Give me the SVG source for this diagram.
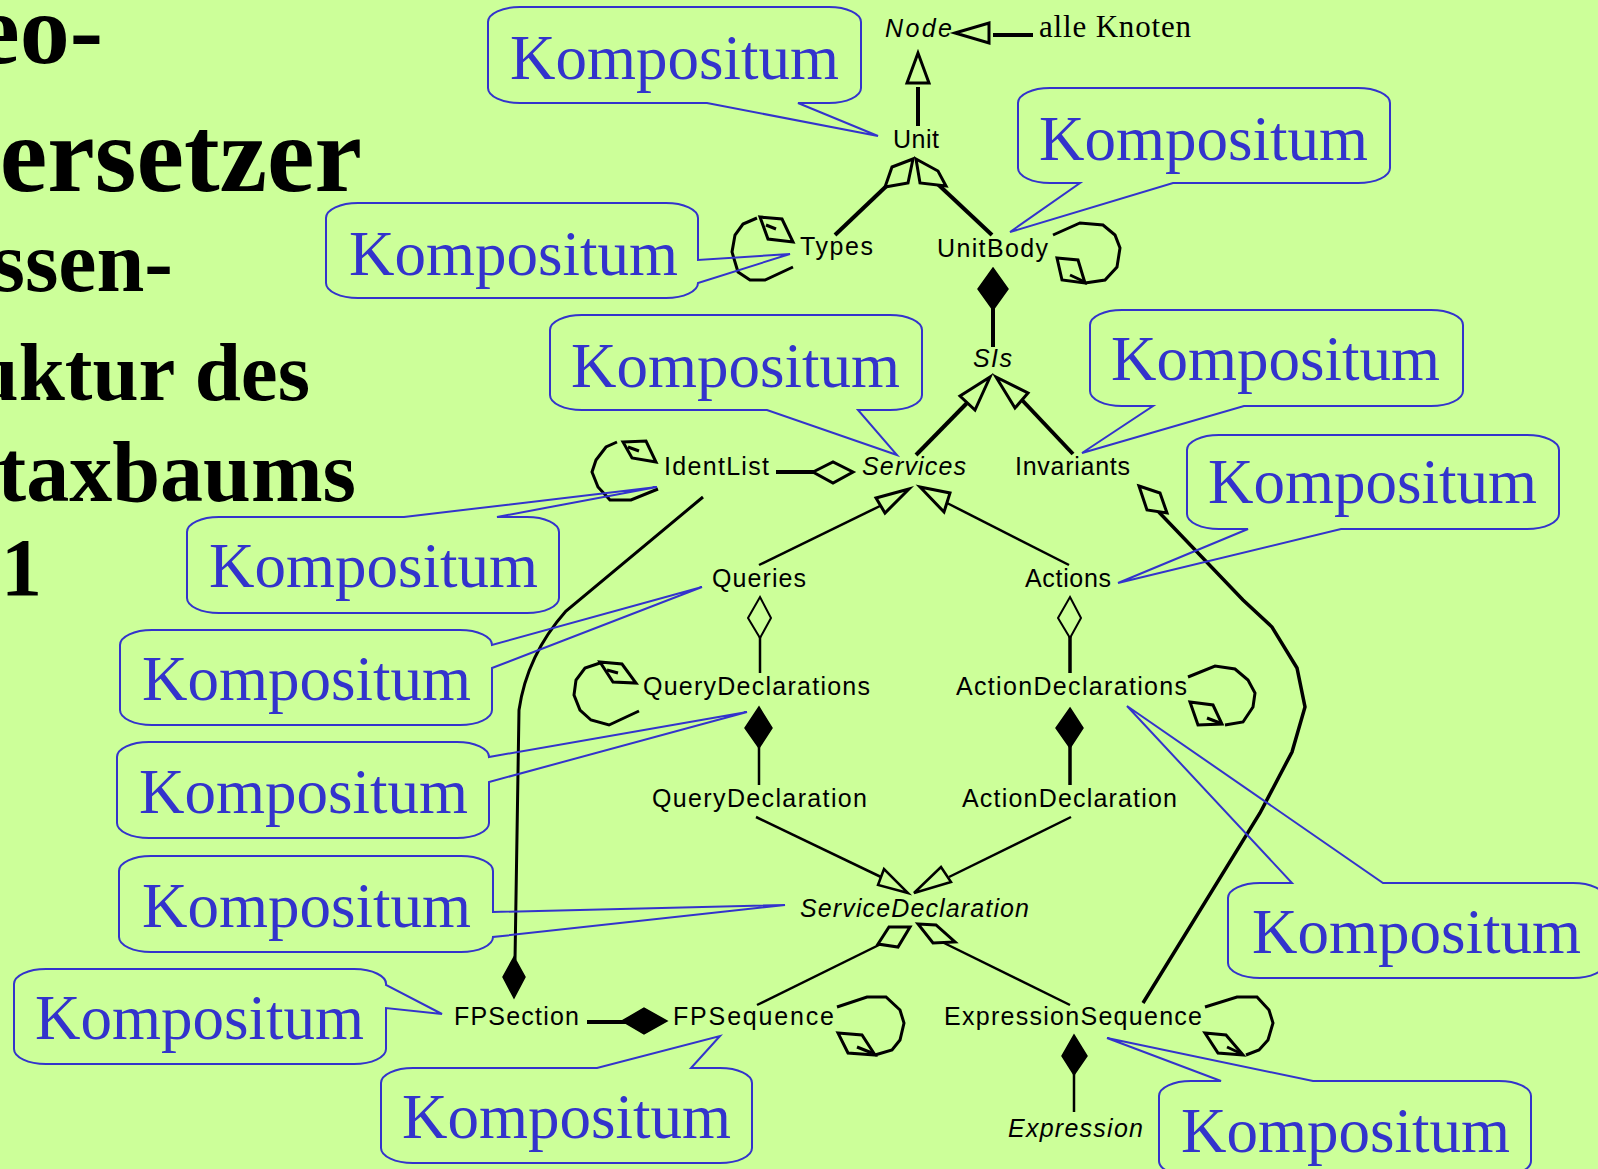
<svg xmlns="http://www.w3.org/2000/svg" width="1598" height="1169" viewBox="0 0 1598 1169">
  <style>
    .title { font-family: "Liberation Serif", "Times New Roman", serif; font-weight: bold; fill: #000; text-anchor: end; }
    .lbl { font-family: "Liberation Sans", Arial, sans-serif; font-size: 25px; fill: #000; }
    .abs { font-style: italic; }
    .note { font-family: "Liberation Serif", "Times New Roman", serif; font-size: 63px; fill: #3333cc; }
    .bubble { fill: none; stroke: #3333cc; stroke-width: 2; stroke-linejoin: miter; }
    .ln { fill: none; stroke: #000; stroke-width: 2.5; }
    .thick { fill: none; stroke: #000; stroke-width: 4; }
    .open { fill: #ccff99; stroke: #000; stroke-width: 3; stroke-linejoin: miter; }
    .solid { fill: #000; stroke: #000; stroke-width: 1.5; }
    .loop { fill: none; stroke: #000; stroke-width: 3; stroke-linejoin: miter; }
  </style>

  <rect x="0" y="0" width="1598" height="1169" fill="#ccff99"/>

  <!-- slide heading, cut off at the left margin -->
  <g id="heading">
    <text class="title" x="103" y="63" font-size="100">eo-</text>
    <text class="title" x="362" y="191" font-size="107">ersetzer</text>
    <text class="title" x="173" y="291" font-size="86">ssen-</text>
    <text class="title" x="310" y="400" font-size="83">uktur des</text>
    <text class="title" x="356" y="501" font-size="86">taxbaums</text>
    <text class="title" x="42" y="595" font-size="82">1</text>
  </g>

  <!-- associations, generalisations and aggregations -->
  <g id="connectors">
    <!-- alle Knoten -> Node -->
    <line class="thick" x1="993" y1="35" x2="1033" y2="35"/>
    <polygon class="open" points="955,33 989,23 989,43"/>
    <!-- Unit -> Node -->
    <line class="thick" x1="918" y1="87" x2="918" y2="126"/>
    <polygon class="open" points="918,53 907,83 929,83"/>
    <!-- Unit <>- Types -->
    <line class="thick" x1="835" y1="235" x2="897" y2="176"/>
    <polygon class="open" points="913,159 908,183 885,187 892,167"/>
    <!-- Unit <>- UnitBody -->
    <line class="thick" x1="992" y1="235" x2="927" y2="174"/>
    <polygon class="open" points="916,159 938,171 946,186 920,183"/>
    <!-- UnitBody <*>- SIs -->
    <line class="thick" x1="993" y1="305" x2="993" y2="347"/>
    <polygon class="solid" points="993,268 1008,289 993,310 978,289"/>
    <!-- Services -> SIs -->
    <line class="thick" x1="967" y1="403" x2="916" y2="455"/>
    <polygon class="open" points="990,377 960,396 975,410"/>
    <!-- Invariants -> SIs -->
    <line class="thick" x1="1022" y1="400" x2="1073" y2="454"/>
    <polygon class="open" points="996,377 1028,393 1015,408"/>
    <!-- Services <>- IdentList -->
    <line class="thick" x1="776" y1="472" x2="832" y2="472"/>
    <polygon class="open" points="813,472 833,462 853,472 833,483"/>
    <!-- Queries -> Services -->
    <line class="ln" x1="880" y1="506" x2="759" y2="565"/>
    <polygon class="open" points="909,489 876,498 885,513"/>
    <!-- Actions -> Services -->
    <line class="ln" x1="947" y1="503" x2="1069" y2="565"/>
    <polygon class="open" points="920,487 950,493 944,512"/>
    <!-- Queries <>- QueryDeclarations -->
    <line class="ln" x1="760" y1="620" x2="760" y2="673"/>
    <polygon class="open" points="760,597 771,618 760,638 748,618" style="stroke-width:2"/>
    <!-- Actions <>- ActionDeclarations -->
    <line class="thick" x1="1070" y1="620" x2="1070" y2="673" style="stroke-width:3.5"/>
    <polygon class="open" points="1070,597 1081,618 1070,638 1058,618" style="stroke-width:2"/>
    <!-- QueryDeclarations <*>- QueryDeclaration -->
    <line class="ln" x1="759" y1="745" x2="759" y2="785"/>
    <polygon class="solid" points="759,707 772,728 759,748 745,728"/>
    <!-- ActionDeclarations <*>- ActionDeclaration -->
    <line class="thick" x1="1070" y1="745" x2="1070" y2="785" style="stroke-width:3.5"/>
    <polygon class="solid" points="1070,708 1083,728 1070,748 1056,728"/>
    <!-- QueryDeclaration -> ServiceDeclaration -->
    <line class="ln" x1="756" y1="817" x2="881" y2="877"/>
    <polygon class="open" points="908,893 878,885 884,869" style="stroke-width:2.5"/>
    <!-- ActionDeclaration -> ServiceDeclaration -->
    <line class="ln" x1="1071" y1="817" x2="949" y2="877"/>
    <polygon class="open" points="914,893 951,882 941,867" style="stroke-width:2.5"/>
    <!-- ServiceDeclaration <>- FPSequence -->
    <line class="ln" x1="889" y1="940" x2="757" y2="1005"/>
    <polygon class="open" points="889,927 910,927 898,947 878,944"/>
    <!-- ServiceDeclaration <>- ExpressionSequence -->
    <line class="ln" x1="938" y1="940" x2="1070" y2="1005"/>
    <polygon class="open" points="918,924 936,925 955,942 933,943"/>
    <!-- FPSequence <*>- FPSection -->
    <line class="thick" x1="587" y1="1022" x2="626" y2="1022"/>
    <polygon class="solid" points="622,1021 644,1008 667,1021 644,1034"/>
    <!-- ExpressionSequence <*>- Expression -->
    <line class="ln" x1="1074" y1="1073" x2="1074" y2="1112"/>
    <polygon class="solid" points="1074,1035 1087,1056 1074,1075 1062,1056"/>
    <!-- FPSection <*>- IdentList -->
    <path class="ln" style="stroke-width:3" d="M703,497 L566,611 Q527,655 519,710 L515,960"/>
    <polygon class="solid" points="514,957 525,977 514,998 503,977"/>
    <!-- Invariants <>- ExpressionSequence -->
    <polyline class="ln" style="stroke-width:3.5" points="1154,507 1243,600 1272,627 1297,668 1305,707 1292,752 1260,813 1143,1003"/>
    <polygon class="open" points="1139,486 1160,493 1167,513 1147,510"/>

    <!-- recursive aggregations (self loops) -->
    <polyline class="loop" points="793,267 765,280 750,280 738,272 732,252 735,235 743,224 757,218"/>
    <polygon class="loop" points="760,217 782,219 793,242 768,239"/>
    <line class="loop" x1="766" y1="225" x2="776" y2="229"/>

    <polyline class="loop" points="1053,235 1080,223 1103,225 1115,235 1120,248 1117,267 1105,280 1085,283"/>
    <polygon class="loop" points="1057,258 1078,260 1085,283 1062,280"/>
    <line class="loop" x1="1070" y1="275" x2="1085" y2="282"/>

    <polyline class="loop" points="658,489 631,500 610,500 598,487 592,472 596,460 606,447 617,442"/>
    <polygon class="loop" points="623,442 646,441 656,462 632,458"/>
    <line class="loop" x1="628" y1="447" x2="639" y2="451"/>

    <polyline class="loop" points="639,711 609,725 591,720 580,710 574,695 576,680 585,668 600,663"/>
    <polygon class="loop" points="600,662 622,664 636,683 613,682"/>
    <line class="loop" x1="607" y1="670" x2="618" y2="673"/>

    <polyline class="loop" points="1188,677 1215,666 1235,669 1248,680 1255,693 1253,707 1243,722 1225,725"/>
    <polygon class="loop" points="1190,702 1213,705 1222,724 1198,725"/>
    <line class="loop" x1="1207" y1="718" x2="1220" y2="723"/>

    <polyline class="loop" points="837,1007 867,997 886,997 900,1010 904,1023 900,1040 892,1050 875,1055"/>
    <polygon class="loop" points="838,1033 862,1035 875,1055 848,1053"/>
    <line class="loop" x1="857" y1="1047" x2="872" y2="1053"/>

    <polyline class="loop" points="1205,1007 1237,997 1257,997 1269,1010 1273,1023 1268,1040 1259,1050 1246,1055"/>
    <polygon class="loop" points="1205,1033 1226,1035 1243,1055 1218,1053"/>
    <line class="loop" x1="1227" y1="1047" x2="1242" y2="1054"/>
  </g>

  <!-- classes -->
  <g id="node-Node"><text class="lbl abs" x="885" y="37" textLength="67">Node</text></g>
  <g id="node-alle-knoten"><text x="1039" y="37" font-family="Liberation Serif, serif" font-size="31" textLength="152">alle Knoten</text></g>
  <g id="node-Unit"><text class="lbl" x="893" y="148" textLength="46">Unit</text></g>
  <g id="node-Types"><text class="lbl" x="800" y="255" textLength="73">Types</text></g>
  <g id="node-UnitBody"><text class="lbl" x="937" y="257" textLength="111">UnitBody</text></g>
  <g id="node-SIs"><text class="lbl abs" x="973" y="367" textLength="39">SIs</text></g>
  <g id="node-IdentList"><text class="lbl" x="664" y="475" textLength="105">IdentList</text></g>
  <g id="node-Services"><text class="lbl abs" x="862" y="475" textLength="104">Services</text></g>
  <g id="node-Invariants"><text class="lbl" x="1015" y="475" textLength="115">Invariants</text></g>
  <g id="node-Queries"><text class="lbl" x="712" y="587" textLength="94">Queries</text></g>
  <g id="node-Actions"><text class="lbl" x="1025" y="587" textLength="86">Actions</text></g>
  <g id="node-QueryDeclarations"><text class="lbl" x="643" y="695" textLength="227">QueryDeclarations</text></g>
  <g id="node-ActionDeclarations"><text class="lbl" x="956" y="695" textLength="231">ActionDeclarations</text></g>
  <g id="node-QueryDeclaration"><text class="lbl" x="652" y="807" textLength="215">QueryDeclaration</text></g>
  <g id="node-ActionDeclaration"><text class="lbl" x="962" y="807" textLength="215">ActionDeclaration</text></g>
  <g id="node-ServiceDeclaration"><text class="lbl abs" x="800" y="917" textLength="229">ServiceDeclaration</text></g>
  <g id="node-FPSection"><text class="lbl" x="454" y="1025" textLength="125">FPSection</text></g>
  <g id="node-FPSequence"><text class="lbl" x="673" y="1025" textLength="161">FPSequence</text></g>
  <g id="node-ExpressionSequence"><text class="lbl" x="944" y="1025" textLength="258">ExpressionSequence</text></g>
  <g id="node-Expression"><text class="lbl abs" x="1008" y="1137" textLength="135">Expression</text></g>

  <!-- "Kompositum" speech bubbles -->
  <g id="note-unit">
    <path class="bubble" d="M520,7 L829,7 A32,15 0 0 1 861,22 L861,88 A32,15 0 0 1 829,103 L798,103 L878,136 L707,103 L520,103 A32,15 0 0 1 488,88 L488,22 A32,15 0 0 1 520,7 Z"/>
    <text class="note" x="510" y="79">Kompositum</text>
  </g>
  <g id="note-unitbody">
    <path class="bubble" d="M1050,88 L1358,88 A32,15 0 0 1 1390,103 L1390,168 A32,15 0 0 1 1358,183 L1173,183 L1010,232 L1080,183 L1050,183 A32,15 0 0 1 1018,168 L1018,103 A32,15 0 0 1 1050,88 Z"/>
    <text class="note" x="1039" y="160">Kompositum</text>
  </g>
  <g id="note-types">
    <path class="bubble" d="M358,203 L666,203 A32,15 0 0 1 698,218 L698,260 L790,254 L698,283 A32,15 0 0 1 666,298 L358,298 A32,15 0 0 1 326,283 L326,218 A32,15 0 0 1 358,203 Z"/>
    <text class="note" x="349" y="275">Kompositum</text>
  </g>
  <g id="note-services">
    <path class="bubble" d="M582,315 L890,315 A32,15 0 0 1 922,330 L922,395 A32,15 0 0 1 890,410 L858,410 L897,455 L767,410 L582,410 A32,15 0 0 1 550,395 L550,330 A32,15 0 0 1 582,315 Z"/>
    <text class="note" x="571" y="387">Kompositum</text>
  </g>
  <g id="note-invariants">
    <path class="bubble" d="M1122,310 L1431,310 A32,15 0 0 1 1463,325 L1463,391 A32,15 0 0 1 1431,406 L1244,406 L1082,453 L1153,406 L1122,406 A32,15 0 0 1 1090,391 L1090,325 A32,15 0 0 1 1122,310 Z"/>
    <text class="note" x="1111" y="380">Kompositum</text>
  </g>
  <g id="note-actions">
    <path class="bubble" d="M1219,435 L1527,435 A32,15 0 0 1 1559,450 L1559,514 A32,15 0 0 1 1527,529 L1341,529 L1118,583 L1248,529 L1219,529 A32,15 0 0 1 1187,514 L1187,450 A32,15 0 0 1 1219,435 Z"/>
    <text class="note" x="1208" y="503">Kompositum</text>
  </g>
  <g id="note-identlist">
    <path class="bubble" d="M219,517 L404,517 L657,487 L497,517 L527,517 A32,15 0 0 1 559,532 L559,598 A32,15 0 0 1 527,613 L219,613 A32,15 0 0 1 187,598 L187,532 A32,15 0 0 1 219,517 Z"/>
    <text class="note" x="209" y="587">Kompositum</text>
  </g>
  <g id="note-queries">
    <path class="bubble" d="M152,630 L460,630 A32,15 0 0 1 492,645 L702,587 L492,668 L492,710 A32,15 0 0 1 460,725 L152,725 A32,15 0 0 1 120,710 L120,645 A32,15 0 0 1 152,630 Z"/>
    <text class="note" x="142" y="700">Kompositum</text>
  </g>
  <g id="note-querydeclarations">
    <path class="bubble" d="M149,742 L457,742 A32,15 0 0 1 489,757 L747,712 L489,782 L489,823 A32,15 0 0 1 457,838 L149,838 A32,15 0 0 1 117,823 L117,757 A32,15 0 0 1 149,742 Z"/>
    <text class="note" x="139" y="813">Kompositum</text>
  </g>
  <g id="note-servicedeclaration">
    <path class="bubble" d="M151,856 L461,856 A32,15 0 0 1 493,871 L493,912 L785,905 L493,937 A32,15 0 0 1 461,952 L151,952 A32,15 0 0 1 119,937 L119,871 A32,15 0 0 1 151,856 Z"/>
    <text class="note" x="142" y="927">Kompositum</text>
  </g>
  <g id="note-fpsection">
    <path class="bubble" d="M46,969 L354,969 A32,15 0 0 1 386,985 L442,1014 L386,1008 L386,1049 A32,15 0 0 1 354,1064 L46,1064 A32,15 0 0 1 14,1049 L14,984 A32,15 0 0 1 46,969 Z"/>
    <text class="note" x="35" y="1039">Kompositum</text>
  </g>
  <g id="note-fpsequence">
    <path class="bubble" d="M413,1068 L597,1068 L720,1036 L691,1068 L720,1068 A32,15 0 0 1 752,1083 L752,1148 A32,15 0 0 1 720,1163 L413,1163 A32,15 0 0 1 381,1148 L381,1083 A32,15 0 0 1 413,1068 Z"/>
    <text class="note" x="402" y="1138">Kompositum</text>
  </g>
  <g id="note-actiondeclarations">
    <path class="bubble" d="M1260,883 L1292,883 L1127,706 L1383,883 L1573,883 A32,15 0 0 1 1605,898 L1605,963 A32,15 0 0 1 1573,978 L1260,978 A32,15 0 0 1 1228,963 L1228,898 A32,15 0 0 1 1260,883 Z"/>
    <text class="note" x="1252" y="953">Kompositum</text>
  </g>
  <g id="note-expressionsequence">
    <path class="bubble" d="M1191,1081 L1221,1081 L1107,1038 L1313,1081 L1499,1081 A32,15 0 0 1 1531,1096 L1531,1161 A32,15 0 0 1 1499,1176 L1191,1176 A32,15 0 0 1 1159,1161 L1159,1096 A32,15 0 0 1 1191,1081 Z"/>
    <text class="note" x="1181" y="1152">Kompositum</text>
  </g>
</svg>
